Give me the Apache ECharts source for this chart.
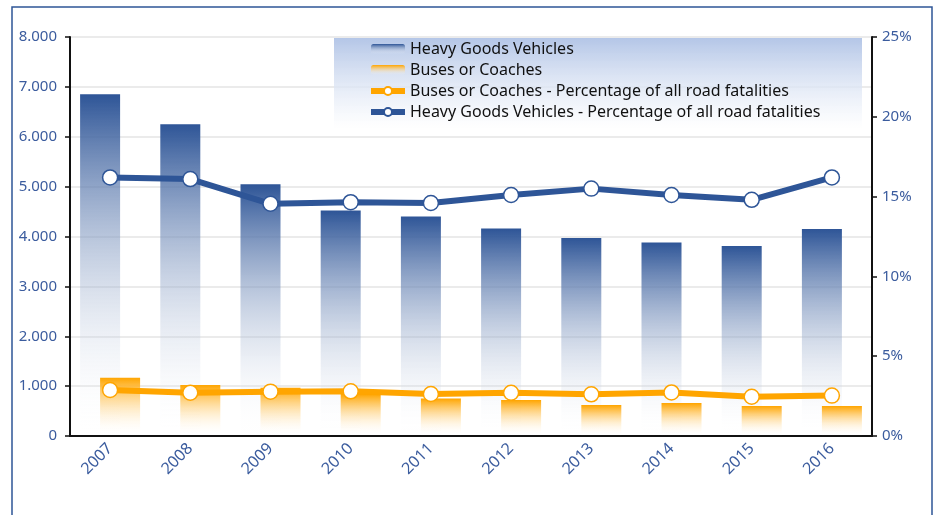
<!DOCTYPE html>
<html>
<head>
<meta charset="utf-8">
<script src="https://cdn.jsdelivr.net/npm/echarts@6/dist/echarts.min.js"></script>
<style>
  html, body { margin: 0; padding: 0; background: #fff; }
  #chart { width: 938px; height: 515px; }
</style>
</head>
<body>
<div id="chart"></div>
<script>
const years = ['2007', '2008', '2009', '2010', '2011', '2012', '2013', '2014', '2015', '2016']
const hgvDeaths = [6850, 6250, 5050, 4520, 4400, 4160, 3970, 3880, 3810, 4150]
const busDeaths = [1170, 1025, 965, 840, 750, 720, 620, 660, 600, 600]
const busShare = [2.88, 2.71, 2.78, 2.80, 2.63, 2.71, 2.61, 2.73, 2.46, 2.53]
const hgvShare = [16.2, 16.1, 14.55, 14.65, 14.6, 15.1, 15.5, 15.1, 14.8, 16.2]

const blue = '#2E5597'
const orange = '#FFA500'
const labelBlue = '#3B5C9E'
const font = 'Noto Sans'

const chart = echarts.init(document.getElementById('chart'))

// colour at the top of the bar, fading out towards the axis
const fade = (top) => ({
  type: 'linear', x: 0, y: 0, x2: 0, y2: 1,
  colorStops: [{ offset: 0, color: top }, { offset: 1, color: 'rgba(255,255,255,0)' }]
})

chart.setOption({
  animation: false,
  textStyle: { fontFamily: font },
  grid: { left: 70, right: 66, top: 37, bottom: 79 },
  graphic: [
    {
      type: 'rect', z: 0, silent: true,
      shape: { x: 12, y: 7, width: 920, height: 520 },
      style: { fill: 'none', stroke: blue, lineWidth: 1.5 }
    },
    {
      type: 'rect', z: 3, silent: true,
      shape: { x: 334, y: 38, width: 528, height: 90 },
      style: {
        fill: {
          type: 'linear', x: 0, y: 0, x2: 0, y2: 1,
          colorStops: [
            { offset: 0, color: '#B4C6E7' },
            { offset: 1, color: 'rgba(255,255,255,0.6)' }
          ]
        }
      }
    }
  ],
  legend: {
    orient: 'vertical',
    left: 363,
    top: 36,
    itemWidth: 34,
    itemHeight: 10,
    itemGap: 5,
    z: 5,
    textStyle: { fontFamily: font, fontSize: 16, color: '#111' },
    data: [
      { name: 'Heavy Goods Vehicles' },
      { name: 'Buses or Coaches' },
      { name: 'Buses or Coaches - Percentage of all road fatalities', lineStyle: { width: 6 } },
      { name: 'Heavy Goods Vehicles - Percentage of all road fatalities', lineStyle: { width: 6 } }
    ]
  },
  xAxis: {
    type: 'category',
    data: years,
    boundaryGap: true,
    axisLine: { lineStyle: { color: '#111', width: 2 } },
    axisTick: { length: 5, lineStyle: { color: '#111', width: 1.5 } },
    axisLabel: { rotate: 45, color: labelBlue, fontSize: 16, margin: 10 }
  },
  yAxis: [
    {
      type: 'value',
      min: 0, max: 8000, interval: 1000,
      axisLine: { show: true, lineStyle: { color: '#111', width: 2 } },
      axisTick: { show: true, length: 5, lineStyle: { color: '#111', width: 1.5 } },
      splitLine: { lineStyle: { color: '#E4E4E4', width: 1.5 } },
      axisLabel: {
        color: labelBlue, fontSize: 15, margin: 13,
        formatter: v => v >= 1000 ? (v / 1000) + '.000' : String(v)
      }
    },
    {
      type: 'value',
      min: 0, max: 25, interval: 5,
      axisLine: { show: true, lineStyle: { color: '#111', width: 2 } },
      axisTick: { show: true, length: 5, lineStyle: { color: '#111', width: 1.5 } },
      splitLine: { show: false },
      axisLabel: { color: labelBlue, fontSize: 15, margin: 10, formatter: '{value}%' }
    }
  ],
  series: [
    {
      name: 'Heavy Goods Vehicles',
      type: 'bar',
      barWidth: 40,
      barGap: '-50%',
      itemStyle: { color: fade(blue) },
      data: hgvDeaths
    },
    {
      name: 'Buses or Coaches',
      type: 'bar',
      barWidth: 40,
      barGap: '-50%',
      itemStyle: { color: fade(orange) },
      data: busDeaths
    },
    {
      name: 'Buses or Coaches - Percentage of all road fatalities',
      type: 'line',
      yAxisIndex: 1,
      symbol: 'circle',
      symbolSize: 15,
      showAllSymbol: true,
      z: 4,
      lineStyle: { color: orange, width: 6 },
      itemStyle: { color: '#fff', borderColor: orange, borderWidth: 1.5 },
      data: busShare
    },
    {
      name: 'Heavy Goods Vehicles - Percentage of all road fatalities',
      type: 'line',
      yAxisIndex: 1,
      symbol: 'circle',
      symbolSize: 15,
      showAllSymbol: true,
      z: 4,
      lineStyle: { color: blue, width: 6 },
      itemStyle: { color: '#fff', borderColor: blue, borderWidth: 1.5 },
      data: hgvShare
    }
  ]
})
</script>
</body>
</html>
